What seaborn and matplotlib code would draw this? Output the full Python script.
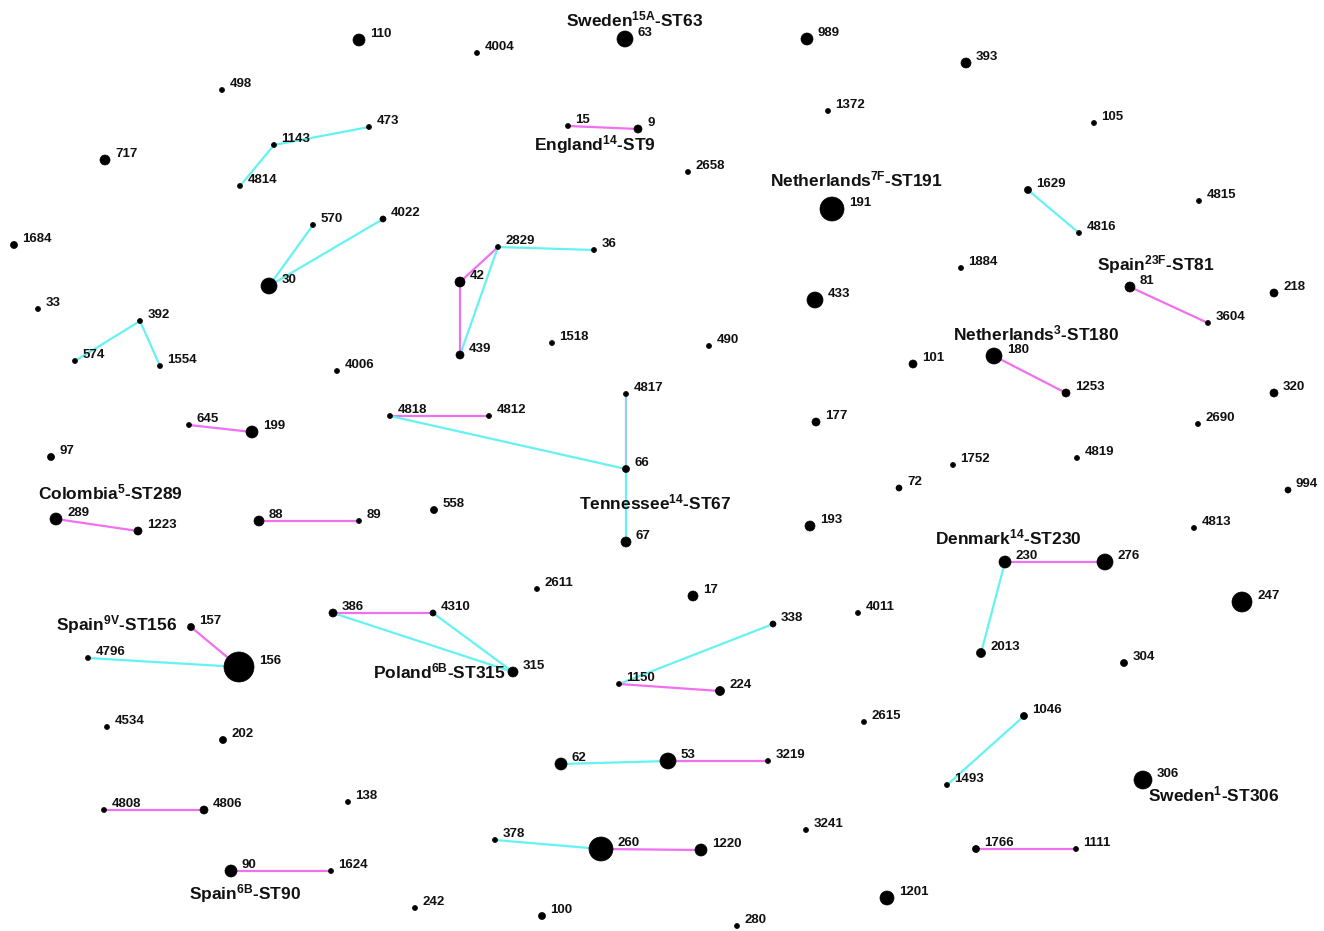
import numpy as np
import pandas as pd
import seaborn as sns
import matplotlib.pyplot as plt

# node id, x, y (layout coords, pixels), radius class
node_id = ['110', '4004', '63', '989', '393', '498', '1372', '105', '15', '9',
           '473', '1143', '717', '4814', '2658', '191', '1629', '4815', '4816', '570',
           '4022', '1684', '2829', '36', '42', '30', '1884', '433', '81', '218',
           '33', '392', '3604', '574', '1554', '1518', '439', '490', '4006', '101',
           '180', '1253', '320', '4817', '4818', '4812', '177', '645', '199', '2690',
           '66', '97', '1752', '4819', '72', '994', '558', '289', '1223', '88',
           '89', '193', '4813', '67', '2611', '230', '276', '17', '247', '4011',
           '386', '4310', '157', '338', '4796', '156', '315', '1150', '224', '2013',
           '304', '4534', '202', '1046', '2615', '62', '53', '3219', '1493', '306',
           '138', '4808', '4806', '3241', '378', '260', '1220', '1766', '1111', '90',
           '1624', '1201', '242', '100', '280']
node_x = [359, 477, 625, 807, 966, 222, 828, 1094, 568, 638,
          369, 274, 105, 240, 688, 832, 1028, 1199, 1079, 313,
          383, 14, 498, 594, 460, 269, 961, 815, 1130, 1274,
          38, 140, 1208, 75, 160, 552, 460, 709, 337, 913,
          994, 1066, 1274, 626, 390, 489, 816, 189, 252, 1198,
          626, 51, 953, 1077, 899, 1288, 434, 56, 138, 259,
          359, 810, 1194, 626, 537, 1005, 1105, 693, 1242, 858,
          333, 433, 191, 773, 88, 239, 513, 619, 720, 981,
          1124, 107, 223, 1024, 864, 561, 668, 768, 947, 1143,
          348, 104, 204, 806, 495, 601, 701, 976, 1076, 231,
          331, 887, 415, 542, 737]
node_y = [40, 53, 39, 39, 63, 90, 111, 123, 126, 129,
          127, 145, 160, 186, 172, 209, 190, 201, 233, 225,
          219, 245, 247, 250, 282, 286, 268, 300, 287, 293,
          309, 321, 323, 361, 366, 343, 355, 346, 371, 364,
          356, 393, 393, 394, 416, 416, 422, 425, 432, 424,
          469, 457, 465, 458, 488, 490, 510, 519, 531, 521,
          521, 526, 528, 542, 589, 562, 562, 596, 602, 613,
          613, 613, 627, 624, 658, 667, 672, 684, 691, 653,
          663, 727, 740, 716, 722, 764, 761, 761, 785, 780,
          802, 810, 810, 830, 840, 849, 850, 849, 849, 871,
          871, 898, 908, 916, 926]
node_r = [6, 2.5, 8, 6, 5, 2.5, 2.5, 2.5, 2.5, 4,
          2.5, 2.5, 5, 2.5, 2.5, 12, 3.5, 2.5, 2.5, 2.5,
          3, 3.5, 2.5, 2.5, 5, 8, 2.5, 8, 5, 4,
          2.5, 2.5, 2.5, 2.5, 2.5, 2.5, 4, 2.5, 2.5, 4,
          8, 4, 4, 2.5, 2.5, 2.5, 4, 2.5, 6, 2.5,
          3.5, 3.5, 2.5, 2.5, 3, 3, 3.5, 6, 4, 5,
          2.5, 5, 2.5, 5, 2.5, 6, 8, 5, 10, 2.5,
          4, 3, 3.5, 3, 2.5, 15, 5, 2.5, 4.5, 4.5,
          3.5, 2.5, 3.5, 3.5, 2.5, 6, 8, 2.5, 2.5, 9,
          2.5, 2.5, 4, 2.5, 2.5, 12, 6, 3.5, 2.5, 6,
          2.5, 7, 2.5, 3.5, 2.5]

# links: (from, to, kind)
edge_src = ['1143', '1143', '30', '30', '15', '2829', '2829', '2829', '42', '1629',
            '81', '392', '392', '180', '4818', '4818', '4817', '66', '645', '289',
            '88', '230', '230', '386', '386', '4310', '157', '4796', '1150', '1150',
            '1046', '62', '53', '4808', '378', '260', '1766', '90']
edge_dst = ['473', '4814', '570', '4022', '9', '36', '42', '439', '439', '4816',
            '3604', '574', '1554', '1253', '4812', '66', '66', '67', '199', '1223',
            '89', '276', '2013', '4310', '315', '315', '156', '156', '338', '224',
            '1493', '53', '3219', '4806', '260', '1220', '1111', '1624']
edge_kind = ['slv', 'slv', 'slv', 'slv', 'dlv', 'slv', 'dlv', 'slv', 'dlv', 'slv',
             'dlv', 'slv', 'slv', 'dlv', 'dlv', 'slv', 'tlv', 'slv', 'dlv', 'dlv',
             'dlv', 'dlv', 'slv', 'dlv', 'slv', 'slv', 'dlv', 'slv', 'slv', 'dlv',
             'slv', 'slv', 'dlv', 'dlv', 'slv', 'dlv', 'dlv', 'dlv']

# clone labels
clone_text = [r'Sweden$^{15A}$-ST63', r'England$^{14}$-ST9', r'Netherlands$^{7F}$-ST191',
              r'Spain$^{23F}$-ST81', r'Netherlands$^{3}$-ST180', r'Tennessee$^{14}$-ST67',
              r'Colombia$^{5}$-ST289', r'Denmark$^{14}$-ST230', r'Spain$^{9V}$-ST156',
              r'Poland$^{6B}$-ST315', r'Sweden$^{1}$-ST306', r'Spain$^{6B}$-ST90']
clone_x = [635, 595, 856, 1156, 1036, 655, 110, 1008, 117, 439, 1214, 245]
clone_y = [19, 145, 179, 265, 333, 502, 492, 537, 625, 671, 794, 894]

sns.set_style('white')
plt.rcParams['font.family'] = ['Liberation Sans', 'DejaVu Sans']
plt.rcParams['mathtext.fontset'] = 'custom'
plt.rcParams['mathtext.rm'] = 'Liberation Sans:bold'
plt.rcParams['mathtext.it'] = 'Liberation Sans:bold'
plt.rcParams['mathtext.bf'] = 'Liberation Sans:bold'

nodes = pd.DataFrame({'id': node_id, 'x': node_x, 'y': node_y, 'r': node_r})
pos = nodes.set_index('id')

fig = plt.figure(figsize=(13.24, 9.31), dpi=100)
ax = fig.add_axes([0, 0, 1, 1])

colors = {'slv': '#66f2f2', 'dlv': '#f070f0', 'tlv': '#99c8f5'}
for s, d, k in zip(edge_src, edge_dst, edge_kind):
    ax.plot([pos.loc[s, 'x'], pos.loc[d, 'x']], [pos.loc[s, 'y'], pos.loc[d, 'y']],
            color=colors[k], lw=1.6, zorder=1)

size_map = {r: (2 * r * 0.72) ** 2 for r in set(node_r)}
sns.scatterplot(data=nodes, x='x', y='y', size='r', sizes=size_map,
                color='black', edgecolor='black', linewidth=0.5, legend=False,
                ax=ax, zorder=3)

for i, row in nodes.iterrows():
    ax.text(row.x + row.r + 5, row.y - 6, row.id, fontsize=9.5, fontweight='bold',
            ha='left', va='center', color='#111111', zorder=4)

for t, x, y in zip(clone_text, clone_x, clone_y):
    ax.text(x, y, t, fontsize=12.5, fontweight='bold', ha='center', va='center',
            color='#111111', zorder=4)

ax.set_xlim(0, 1324)
ax.set_ylim(931, 0)
ax.set_axis_off()
fig.savefig('out.png', dpi=100, facecolor='white')
